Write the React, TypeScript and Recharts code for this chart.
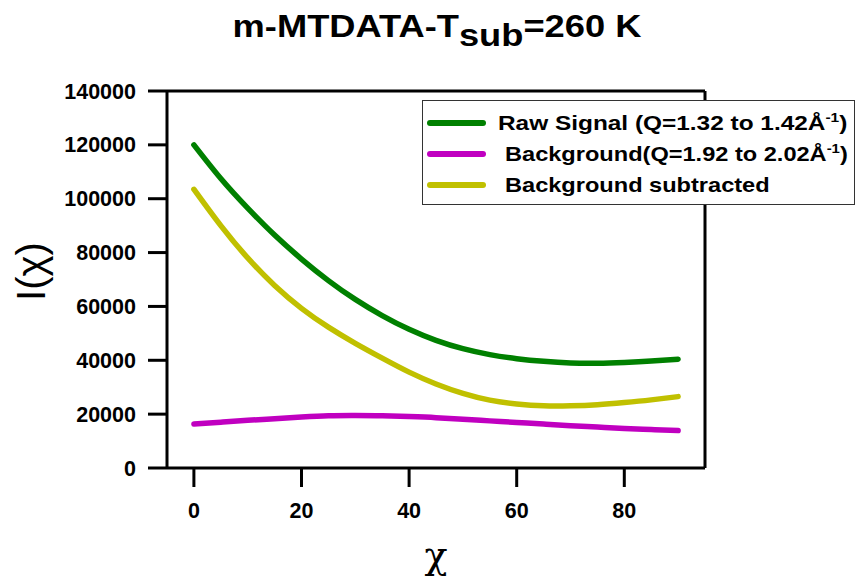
import React from 'react';
import {
  LineChart,
  Line,
  XAxis,
  YAxis,
  ReferenceLine,
  Label,
} from 'recharts';

const chi = [0, 5, 10, 15, 20, 25, 30, 35, 40, 45, 50, 55, 60, 65, 70, 75, 80, 85, 90];
const rawSignal = [120000, 107500, 96500, 86500, 77600, 69600, 62600, 56600, 51500, 47400, 44300, 42100, 40600, 39600, 39000, 38900, 39200, 39700, 40400];
const background = [16300, 17000, 17700, 18300, 18900, 19400, 19500, 19400, 19100, 18700, 18100, 17500, 16900, 16300, 15700, 15200, 14700, 14300, 13900];
const subtracted = [103500, 90000, 78000, 67800, 59300, 52300, 46300, 40800, 35600, 31200, 27700, 25200, 23800, 23100, 23100, 23500, 24300, 25300, 26500];
const xTicks = [0, 20, 40, 60, 80];
const yTicks = [0, 20000, 40000, 60000, 80000, 100000, 120000, 140000];

const data = chi.map((c, i) => ({
  chi: c,
  raw: rawSignal[i],
  bg: background[i],
  sub: subtracted[i],
}));

const font = '"Liberation Sans", Arial, sans-serif';

const series = [
  { key: 'raw', color: '#008000', label: 'Raw Signal (Q=1.32 to 1.42Å', pad: 0, sup: true },
  { key: 'bg', color: '#c000c0', label: 'Background(Q=1.92 to 2.02Å', pad: 7, sup: true },
  { key: 'sub', color: '#c0c000', label: 'Background subtracted', pad: 7, sup: false },
];

const LegendBox = () => (
  <div
    style={{
      position: 'absolute',
      left: 422,
      top: 100,
      width: 433,
      height: 105,
      border: '1px solid #333',
      background: '#fff',
      boxSizing: 'border-box',
      paddingTop: 6,
      fontFamily: font,
      fontWeight: 'bold',
      fontSize: 20.5,
      color: '#000',
    }}
  >
    {series.map((s) => (
      <div key={s.key} style={{ display: 'flex', alignItems: 'center', height: 31 }}>
        <span style={{ width: 59, height: 6, borderRadius: 3, background: s.color, marginLeft: 4, flex: 'none' }} />
        <span
          style={{
            marginLeft: 12 + s.pad,
            whiteSpace: 'pre',
            display: 'inline-block',
            transform: s.key === 'raw' ? 'scaleX(1.19)' : 'scaleX(1.15)',
            transformOrigin: 'left center',
          }}
        >
          {s.label}
          {s.sup && (
            <>
              <sup style={{ fontSize: 13 }}>-1</sup>)
            </>
          )}
        </span>
      </div>
    ))}
  </div>
);

const YTitle = ({ viewBox }: any) => {
  const cy = viewBox.y + viewBox.height / 2 - 8;
  return (
    <text
      x={31}
      y={cy}
      transform={`rotate(-90, 31, ${cy})`}
      textAnchor="middle"
      dominantBaseline="central"
      style={{ fontSize: 40, fontFamily: font, fill: '#000' }}
    >
      I(χ)
    </text>
  );
};

const XTitle = ({ viewBox }: any) => (
  <text
    x={viewBox.x + viewBox.width / 2}
    y={568}
    textAnchor="middle"
    style={{ fontSize: 38, fontFamily: '"DejaVu Serif", "Liberation Serif", serif', fill: '#000' }}
  >
    χ
  </text>
);

const axisTick = { fill: '#000', fontSize: 21.5, fontWeight: 'bold', fontFamily: font };
const tickLine = { stroke: '#000', strokeWidth: 3 };
const axisLine = { stroke: '#000', strokeWidth: 3 };

export default function App() {
  return (
    <div style={{ position: 'absolute', left: 0, top: 0, width: 859, height: 578, background: '#fff' }}>
      <div
        style={{
          position: 'absolute',
          left: 0,
          width: 874,
          top: 9,
          textAlign: 'center',
          fontFamily: font,
          fontWeight: 'bold',
          fontSize: 31,
          color: '#000',
          transform: 'scaleX(1.17)',
          transformOrigin: '437px 0',
        }}
      >
        m-MTDATA-T<sub style={{ fontSize: 31, verticalAlign: '-0.28em' }}>sub</sub>=260 K
      </div>
      <LineChart
        width={859}
        height={578}
        data={data}
        margin={{ top: 91, right: 154, bottom: 0, left: 0 }}
      >
        <XAxis
          dataKey="chi"
          type="number"
          domain={[-5, 95]}
          ticks={xTicks}
          tick={axisTick}
          tickSize={19}
          tickMargin={16}
          tickLine={tickLine}
          axisLine={axisLine}
          height={110}
        >
          <Label content={<XTitle />} />
        </XAxis>
        <YAxis
          type="number"
          domain={[0, 140000]}
          ticks={yTicks}
          tick={axisTick}
          tickSize={19}
          tickMargin={12}
          tickLine={tickLine}
          axisLine={axisLine}
          width={167}
        >
          <Label content={<YTitle />} />
        </YAxis>
        <ReferenceLine y={140000} stroke="#000" strokeWidth={3} />
        <ReferenceLine x={95} stroke="#000" strokeWidth={3} />
        <Line type="natural" dataKey="raw" stroke="#008000" strokeWidth={5.5} dot={false} strokeLinecap="round" isAnimationActive={false} />
        <Line type="natural" dataKey="bg" stroke="#c000c0" strokeWidth={5.5} dot={false} strokeLinecap="round" isAnimationActive={false} />
        <Line type="natural" dataKey="sub" stroke="#c0c000" strokeWidth={5.5} dot={false} strokeLinecap="round" isAnimationActive={false} />
      </LineChart>
      <LegendBox />
    </div>
  );
}
